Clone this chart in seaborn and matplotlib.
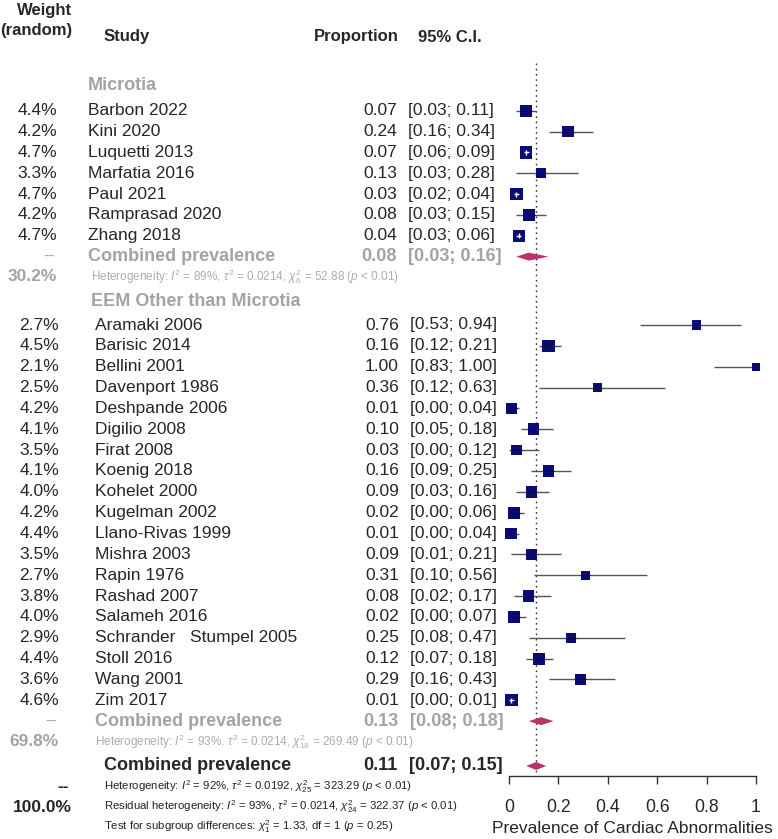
import numpy as np
import pandas as pd
import matplotlib
matplotlib.use("Agg")
import matplotlib.pyplot as plt
import seaborn as sns

# ---------------- data ----------------
micro_studies = ["Barbon 2022", "Kini 2020", "Luquetti 2013", "Marfatia 2016",
                 "Paul 2021", "Ramprasad 2020", "Zhang 2018"]
micro_weight = [4.4, 4.2, 4.7, 3.3, 4.7, 4.2, 4.7]
micro_prop = [0.07, 0.24, 0.07, 0.13, 0.03, 0.08, 0.04]
micro_lo = [0.03, 0.16, 0.06, 0.03, 0.02, 0.03, 0.03]
micro_hi = [0.11, 0.34, 0.09, 0.28, 0.04, 0.15, 0.06]
micro_pooled = [0.08, 0.03, 0.16]
micro_total_weight = 30.2
micro_het = r"Heterogeneity: $I^2$ = 89%, $\tau^2$ = 0.0214, $\chi^2_{6}$ = 52.88 ($p$ < 0.01)"

eem_studies = ["Aramaki 2006", "Barisic 2014", "Bellini 2001", "Davenport 1986",
               "Deshpande 2006", "Digilio 2008", "Firat 2008", "Koenig 2018",
               "Kohelet 2000", "Kugelman 2002", "Llano-Rivas 1999", "Mishra 2003",
               "Rapin 1976", "Rashad 2007", "Salameh 2016", "Schrander   Stumpel 2005",
               "Stoll 2016", "Wang 2001", "Zim 2017"]
eem_weight = [2.7, 4.5, 2.1, 2.5, 4.2, 4.1, 3.5, 4.1, 4.0, 4.2, 4.4, 3.5, 2.7,
              3.8, 4.0, 2.9, 4.4, 3.6, 4.6]
eem_prop = [0.76, 0.16, 1.00, 0.36, 0.01, 0.10, 0.03, 0.16, 0.09, 0.02, 0.01,
            0.09, 0.31, 0.08, 0.02, 0.25, 0.12, 0.29, 0.01]
eem_lo = [0.53, 0.12, 0.83, 0.12, 0.00, 0.05, 0.00, 0.09, 0.03, 0.00, 0.00,
          0.01, 0.10, 0.02, 0.00, 0.08, 0.07, 0.16, 0.00]
eem_hi = [0.94, 0.21, 1.00, 0.63, 0.04, 0.18, 0.12, 0.25, 0.16, 0.06, 0.04,
          0.21, 0.56, 0.17, 0.07, 0.47, 0.18, 0.43, 0.01]
eem_pooled = [0.13, 0.08, 0.18]
eem_total_weight = 69.8
eem_het = r"Heterogeneity: $I^2$ = 93%, $\tau^2$ = 0.0214, $\chi^2_{18}$ = 269.49 ($p$ < 0.01)"

overall_pooled = [0.11, 0.07, 0.15]
overall_total_weight = 100.0
overall_het = r"Heterogeneity: $I^2$ = 92%, $\tau^2$ = 0.0192, $\chi^2_{25}$ = 323.29 ($p$ < 0.01)"
overall_resid = r"Residual heterogeneity: $I^2$ = 93%, $\tau^2$ = 0.0214, $\chi^2_{24}$ = 322.37 ($p$ < 0.01)"
overall_test = r"Test for subgroup differences: $\chi^2_{1}$ = 1.33, df = 1 ($p$ = 0.25)"

group_names = ["Microtia", "EEM Other than Microtia"]
tick_values = [0, 0.2, 0.4, 0.6, 0.8, 1]
tick_labels = ["0", "0.2", "0.4", "0.6", "0.8", "1"]
x_label = "Prevalence of Cardiac Abnormalities"

# ---------------- style ----------------
sns.set_style("white")
plt.rcParams["font.family"] = ["Liberation Sans", "DejaVu Sans"]
plt.rcParams["mathtext.fontset"] = "custom"
plt.rcParams["mathtext.rm"] = "Liberation Sans"
plt.rcParams["mathtext.it"] = "Liberation Sans:italic"
plt.rcParams["mathtext.bf"] = "Liberation Sans:bold"

NAVY = "#0B0B78"
MAROON = "#B8336A"
GRAY_T = "#A3A3A3"
GRAY_S = "#ADADAD"
LINE = "#555555"

W, H = 778, 839
fig = plt.figure(figsize=(W / 100, H / 100), dpi=100)

# forest axes: x in proportion units, y in pixel rows from top
AX_L, AX_R, AX_B = 509, 756, 776
axf = fig.add_axes([AX_L / W, (H - AX_B) / H, (AX_R - AX_L) / W, AX_B / H])


def ftext(x, y, s, **kw):
    fig.text(x / W, 1 - y / H, s, va="center", **kw)


# layout (pixel rows)
STEP = 20.85
micro_y = [110.7 + i * STEP for i in range(len(micro_studies))]
micro_comb_y = micro_y[-1] + STEP
micro_het_y = micro_comb_y + 20.0
eem_head_y = 301.7
eem_y = [325.0 + i * STEP for i in range(len(eem_studies))]
eem_comb_y = eem_y[-1] + STEP
eem_het_y = eem_comb_y + 20.5
ov_y = 766.0
ov_lines_y = [786.5, 807.0, 826.5]

# ---------------- headers ----------------
FS = 12.5
ftext(72, 10, "Weight", ha="right", fontsize=12, fontweight="bold")
ftext(72, 30, "(random)", ha="right", fontsize=12, fontweight="bold")
ftext(104, 37, "Study", ha="left", fontsize=12, fontweight="bold")
ftext(399, 37, "Proportion", ha="right", fontsize=12, fontweight="bold")
ftext(418, 37, "95% C.I.", ha="left", fontsize=12, fontweight="bold")

# ---------------- study squares via seaborn ----------------
all_prop = micro_prop + eem_prop
all_lo = micro_lo + eem_lo
all_hi = micro_hi + eem_hi
all_w = micro_weight + eem_weight
all_y = micro_y + eem_y
df = pd.DataFrame({"prop": all_prop, "y": all_y, "weight": all_w,
                   "lo": all_lo, "hi": all_hi})

SIDE_PX = 12.4  # side of square for max weight
wmax = 4.7
area_max = (SIDE_PX * 0.72) ** 2
sns.scatterplot(data=df, x="prop", y="y", size="weight",
                sizes=(0, area_max), size_norm=(0, wmax),
                marker="s", color=NAVY, linewidth=0, legend=False,
                ax=axf, zorder=3, clip_on=False)

# CI lines
axf.hlines(df["y"], df["lo"], df["hi"], color=LINE, lw=1.0, zorder=2)
px_per_unit = AX_R - AX_L
tick_half = 2.4 / px_per_unit
for _, r in df.iterrows():
    half = SIDE_PX * np.sqrt(r["weight"] / wmax) / 2 / px_per_unit
    inside = (r["lo"] >= r["prop"] - half) and (r["hi"] <= r["prop"] + half)
    if inside:
        c = "white"
        axf.hlines(r["y"], r["prop"] - tick_half, r["prop"] + tick_half,
                   color=c, lw=1.0, zorder=4)
        axf.vlines(r["prop"], r["y"] - 2.4, r["y"] + 2.4, color=c, lw=1.0, zorder=4)
    else:
        c = "#0A0A45"
        lo = max(r["lo"], r["prop"] - half)
        hi = min(r["hi"], r["prop"] + half)
        axf.hlines(r["y"], lo, hi, color=c, lw=0.8, zorder=4, clip_on=False)
        axf.vlines(r["prop"], r["y"] - 2.5, r["y"] + 2.5, color=c, lw=0.8,
                   zorder=4, clip_on=False)


def diamond(est, lo, hi, y, h=4.0):
    axf.fill([lo, est, hi, est], [y, y - h, y, y + h], color=MAROON,
             lw=0, zorder=3, clip_on=False)


diamond(*micro_pooled, micro_comb_y)
diamond(*eem_pooled, eem_comb_y)
diamond(*overall_pooled, ov_y)

# reference line
axf.vlines(overall_pooled[0], 63, AX_B, color="#333333", lw=1.0,
           linestyles=(0, (1.2, 2.6)), zorder=1)

# axis styling
axf.set_xlim(0, 1)
axf.set_ylim(AX_B, 0)
for s in ["left", "top", "right"]:
    axf.spines[s].set_visible(False)
axf.spines["bottom"].set_bounds(0, 1)
axf.spines["bottom"].set_color("#333333")
axf.spines["bottom"].set_linewidth(1.0)
axf.set_yticks([])
axf.set_ylabel("")
axf.set_xticks(tick_values)
axf.set_xticklabels(tick_labels, fontsize=12.7)
axf.tick_params(axis="x", direction="out", length=5.5, width=1.0,
                color="#333333", pad=11, bottom=True)
axf.set_xlabel(x_label, fontsize=12.5, labelpad=4)
axf.patch.set_alpha(0)

# ---------------- text columns ----------------
def study_rows(names, weights, props, los, his, ys, xname, xw, xp, xci):
    for n, w, p, lo, hi, y in zip(names, weights, props, los, his, ys):
        ftext(xw, y, f"{w:.1f}%", ha="right", fontsize=FS)
        ftext(xname, y, n, ha="left", fontsize=FS)
        ftext(xp, y, f"{p:.2f}", ha="right", fontsize=FS)
        ftext(xci, y, f"[{lo:.2f}; {hi:.2f}]", ha="left", fontsize=FS)


# Microtia group
ftext(88, 86, group_names[0], ha="left", fontsize=13, fontweight="bold", color=GRAY_T)
study_rows(micro_studies, micro_weight, micro_prop, micro_lo, micro_hi, micro_y,
           88, 57, 397, 408)
ftext(55, micro_comb_y, "--", ha="right", fontsize=FS, color=GRAY_T)
ftext(88, micro_comb_y, "Combined prevalence", ha="left", fontsize=13,
      fontweight="bold", color=GRAY_T)
ftext(397, micro_comb_y, f"{micro_pooled[0]:.2f}", ha="right", fontsize=13,
      fontweight="bold", color=GRAY_T)
ftext(408, micro_comb_y, f"[{micro_pooled[1]:.2f}; {micro_pooled[2]:.2f}]",
      ha="left", fontsize=13, fontweight="bold", color=GRAY_T)
ftext(57, micro_het_y, f"{micro_total_weight:.1f}%", ha="right", fontsize=FS,
      fontweight="bold", color=GRAY_T)
ftext(91, micro_het_y, micro_het, ha="left", fontsize=8.5, color=GRAY_S)

# EEM group
ftext(91, eem_head_y, group_names[1], ha="left", fontsize=13, fontweight="bold", color=GRAY_T)
study_rows(eem_studies, eem_weight, eem_prop, eem_lo, eem_hi, eem_y,
           95, 59, 399, 410)
ftext(57, eem_comb_y, "--", ha="right", fontsize=FS, color=GRAY_T)
ftext(95, eem_comb_y, "Combined prevalence", ha="left", fontsize=13,
      fontweight="bold", color=GRAY_T)
ftext(399, eem_comb_y, f"{eem_pooled[0]:.2f}", ha="right", fontsize=13,
      fontweight="bold", color=GRAY_T)
ftext(410, eem_comb_y, f"[{eem_pooled[1]:.2f}; {eem_pooled[2]:.2f}]",
      ha="left", fontsize=13, fontweight="bold", color=GRAY_T)
ftext(59, eem_het_y, f"{eem_total_weight:.1f}%", ha="right", fontsize=FS,
      fontweight="bold", color=GRAY_T)
ftext(95, eem_het_y, eem_het, ha="left", fontsize=8.5, color=GRAY_S)

# Overall
ftext(104, ov_y, "Combined prevalence", ha="left", fontsize=13, fontweight="bold")
ftext(398, ov_y, f"{overall_pooled[0]:.2f}", ha="right", fontsize=13, fontweight="bold")
ftext(409, ov_y, f"[{overall_pooled[1]:.2f}; {overall_pooled[2]:.2f}]",
      ha="left", fontsize=13, fontweight="bold")
ftext(69, ov_lines_y[0], "--", ha="right", fontsize=FS, fontweight="bold")
ftext(72, ov_lines_y[1], f"{overall_total_weight:.1f}%", ha="right", fontsize=FS,
      fontweight="bold")
for y, s in zip(ov_lines_y, [overall_het, overall_resid, overall_test]):
    ftext(104, y, s, ha="left", fontsize=8.2, color="#222222")

fig.savefig("out.png", dpi=100)
